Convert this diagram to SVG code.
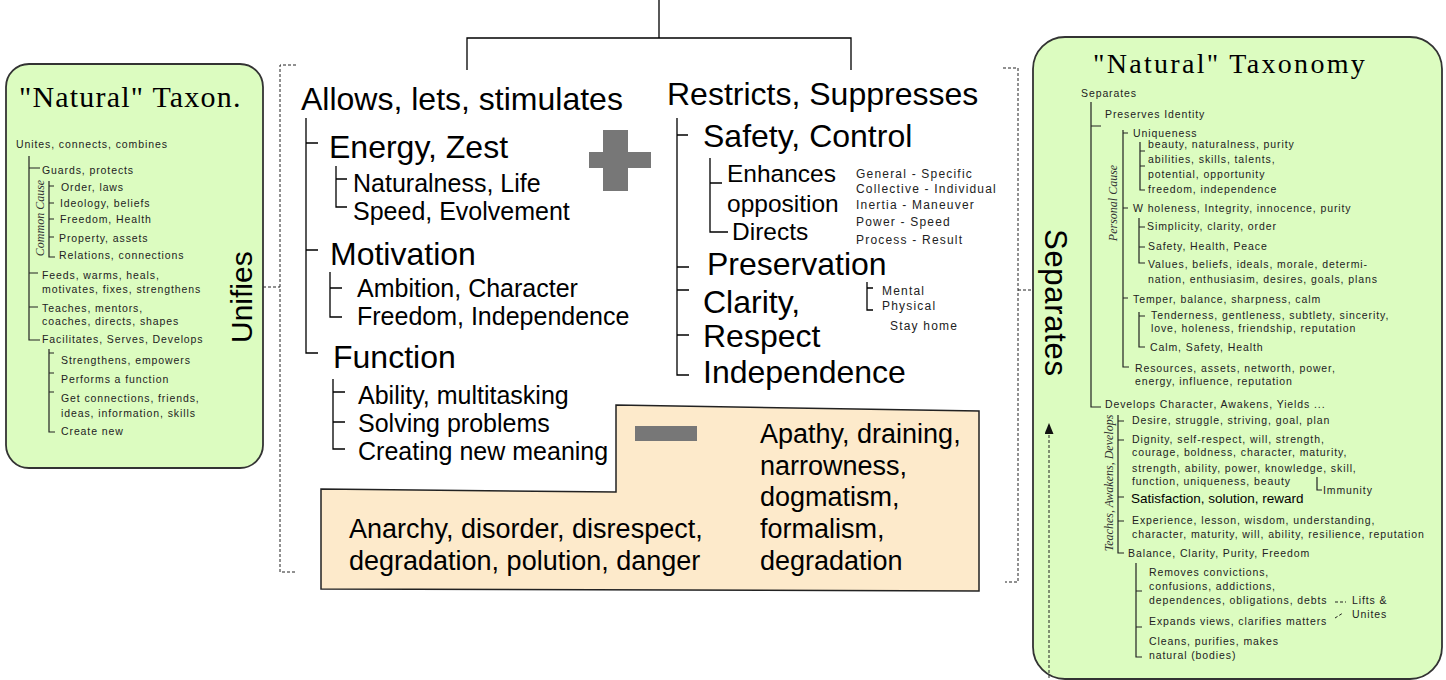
<svg xmlns="http://www.w3.org/2000/svg" width="1446" height="680" viewBox="0 0 1446 680">
<defs>
<style>
text{font-family:"Liberation Sans",Arial,sans-serif;fill:#000}
.s{font-size:10.5px;letter-spacing:0.9px;fill:#222}
.m{font-size:12px;letter-spacing:1.2px;fill:#222}
.h1{font-size:32px}
.h2{font-size:25px}
.h3{font-size:24.5px}
.box{font-size:27px}
.serif{font-family:"Liberation Serif","Times New Roman",serif}
.it{font-family:"Liberation Serif","Times New Roman",serif;font-style:italic;font-size:12px;fill:#333}
.ln{stroke:#000;stroke-width:1.3;fill:none}
.lt{stroke:#222;stroke-width:1.2;fill:none}
.dash{stroke:#222;stroke-width:1;fill:none;stroke-dasharray:3 2}
.panel{fill:#dcfcc0;stroke:#333;stroke-width:1.8}
.sign{fill:#777}
</style>
<marker id="arr" markerWidth="11" markerHeight="9" refX="10" refY="4.5" orient="auto" markerUnits="userSpaceOnUse">
<path d="M0,0 L11,4.5 L0,9 Z" fill="#111"/>
</marker>
</defs>
<rect width="1446" height="680" fill="#fff"/>

<g id="connectors">
<path class="ln" d="M659,0 V38 M467,70 V38 H851 V70"/>
<path class="dash" d="M296,65 H280 V572 H296 M258,287 H280"/>
<path class="dash" d="M1003,68 H1018 V582 H1005 M1018,290 H1038"/>
</g>

<g id="left-panel">
<rect class="panel" x="6" y="64" width="257" height="404" rx="23"/>
<text class="serif" x="19" y="107" font-size="30" letter-spacing="1.2">"Natural" Taxon.</text>
<text class="s" x="16" y="148">Unites, connects, combines</text>
<path class="lt" d="M29,156 V340 H40 M29,168 H40 M29,273 H38 M29,307 H38"/>
<text class="s" x="42" y="174">Guards, protects</text>
<path class="lt" d="M49,181 V257 H55 M49,186 H54 M49,203 H54 M49,219 H54 M49,237 H54"/>
<text class="s" x="61" y="191">Order, laws</text>
<text class="s" x="60" y="207">Ideology, beliefs</text>
<text class="s" x="60" y="223">Freedom, Health</text>
<text class="s" x="59" y="242">Property, assets</text>
<text class="s" x="59" y="259">Relations, connections</text>
<text class="it" transform="translate(44,218) rotate(-90)" text-anchor="middle">Common Cause</text>
<text class="s" x="42" y="279">Feeds, warms, heals,</text>
<text class="s" x="42" y="293">motivates, fixes, strengthens</text>
<text class="s" x="42" y="312">Teaches, mentors,</text>
<text class="s" x="42" y="325">coaches, directs, shapes</text>
<text class="s" x="42" y="343">Facilitates, Serves, Develops</text>
<path class="lt" d="M49,349 V432 H55 M49,353 H54 M49,373 H54 M49,392 H54"/>
<text class="s" x="61" y="364">Strengthens, empowers</text>
<text class="s" x="61" y="383">Performs a function</text>
<text class="s" x="61" y="402">Get connections, friends,</text>
<text class="s" x="61" y="417">ideas, information, skills</text>
<text class="s" x="61" y="435">Create new</text>
<text transform="translate(252,343) rotate(-90)" font-size="30">Unifies</text>
</g>

<g id="allows">
<text class="h1" x="301" y="110">Allows, lets, stimulates</text>
<path class="ln" d="M306,118 V353 H318 M306,143 H318 M306,250 H318"/>
<text class="h1" x="329" y="158">Energy, Zest</text>
<path class="ln" d="M336,166 V207 H347 M336,179 H347"/>
<text class="h2" x="353" y="192">Naturalness, Life</text>
<text class="h2" x="353" y="220">Speed, Evolvement</text>
<text class="h1" x="330" y="265">Motivation</text>
<path class="ln" d="M330,272 V317 H342 M330,288 H342"/>
<text class="h2" x="357" y="297">Ambition, Character</text>
<text class="h2" x="357" y="325">Freedom, Independence</text>
<text class="h1" x="333" y="368">Function</text>
<path class="ln" d="M333,379 V449 H345 M333,392 H345 M333,422 H345"/>
<text class="h2" x="358" y="404">Ability, multitasking</text>
<text class="h2" x="358" y="432">Solving problems</text>
<text class="h2" x="358" y="460">Creating new meaning</text>
</g>

<g id="plus">
<rect class="sign" x="603" y="130" width="25" height="61"/>
<rect class="sign" x="589" y="152" width="62" height="16"/>
</g>

<g id="restricts">
<text class="h1" x="667" y="105">Restricts, Suppresses</text>
<path class="ln" d="M677,118 V375 H689 M677,135 H688 M677,267 H689 M677,290 H689 M677,335 H689"/>
<text class="h1" x="703" y="147">Safety, Control</text>
<path class="ln" d="M710,158 V232 H728 M710,183 H722"/>
<text class="h3" x="727" y="182">Enhances</text>
<text class="h3" x="727" y="212">opposition</text>
<text class="h3" x="732" y="240">Directs</text>
<text class="m" x="856" y="178">General - Specific</text>
<text class="m" x="856" y="193">Collective - Individual</text>
<text class="m" x="856" y="209">Inertia - Maneuver</text>
<text class="m" x="856" y="226">Power - Speed</text>
<text class="m" x="856" y="244">Process - Result</text>
<text class="h1" x="707" y="275">Preservation</text>
<path class="ln" d="M867,282 V310 H873 M867,288 H873"/>
<text class="m" x="882" y="295">Mental</text>
<text class="m" x="882" y="310">Physical</text>
<text class="m" x="890" y="330">Stay home</text>
<text class="h1" x="703" y="313">Clarity,</text>
<text class="h1" x="703" y="347">Respect</text>
<text class="h1" x="703" y="383">Independence</text>
</g>

<g id="negatives">
<path d="M616,405 L979,411 L979,591 L321,589 L321,489 L616,492 Z" fill="#fdeacb" stroke="#222" stroke-width="1.5"/>
<rect class="sign" x="635" y="426" width="62" height="15"/>
<text class="box" x="349" y="538">Anarchy, disorder, disrespect,</text>
<text class="box" x="349" y="570">degradation, polution, danger</text>
<text class="box" x="760" y="443">Apathy, draining,</text>
<text class="box" x="760" y="475">narrowness,</text>
<text class="box" x="760" y="506">dogmatism,</text>
<text class="box" x="760" y="538">formalism,</text>
<text class="box" x="760" y="570">degradation</text>
</g>

<g id="right-panel">
<rect class="panel" x="1033" y="37" width="409" height="642" rx="32"/>
<text class="serif" x="1093" y="73" font-size="28" letter-spacing="2.3">"Natural" Taxonomy</text>
<text class="s" x="1081" y="97">Separates</text>
<path class="lt" d="M1091,102 V407 H1101 M1091,126 H1101"/>
<text class="s" x="1105" y="118">Preserves Identity</text>
<path class="lt" d="M1123,130 V367 H1129 M1123,133 H1128 M1123,208 H1128 M1123,298 H1128"/>
<text class="s" x="1133" y="137">Uniqueness</text>
<path class="lt" d="M1140,142 V190 H1145 M1140,151 H1145 M1140,166 H1145"/>
<text class="s" x="1148" y="148">beauty, naturalness, purity</text>
<text class="s" x="1148" y="163">abilities, skills, talents,</text>
<text class="s" x="1148" y="178">potential, opportunity</text>
<text class="s" x="1148" y="193">freedom, independence</text>
<text class="it" transform="translate(1117,203) rotate(-90)" text-anchor="middle">Personal Cause</text>
<text class="s" x="1133" y="212">W holeness, Integrity, innocence, purity</text>
<path class="lt" d="M1139,218 V263 H1145 M1139,227 H1145 M1139,247 H1145"/>
<text class="s" x="1147" y="230">Simplicity, clarity, order</text>
<text class="s" x="1148" y="250">Safety, Health, Peace</text>
<text class="s" x="1148" y="268">Values, beliefs, ideals, morale, determi-</text>
<text class="s" x="1148" y="283">nation, enthusiasim, desires, goals, plans</text>
<text class="s" x="1133" y="303">Temper, balance, sharpness, calm</text>
<path class="lt" d="M1139,312 V347 H1145 M1139,316 H1145"/>
<text class="s" x="1151" y="319">Tenderness, gentleness, subtlety, sincerity,</text>
<text class="s" x="1151" y="332">love, holeness, friendship, reputation</text>
<text class="s" x="1150" y="351">Calm, Safety, Health</text>
<text class="s" x="1135" y="372">Resources, assets, networth, power,</text>
<text class="s" x="1135" y="385">energy, influence, reputation</text>
<text class="s" x="1105" y="408">Develops Character, Awakens, Yields ...</text>
<path class="lt" d="M1118,415 V553 H1124 M1118,421 H1124 M1118,440 H1124 M1118,497 H1124 M1118,521 H1124"/>
<text class="it" transform="translate(1113,483) rotate(-90)" text-anchor="middle" font-size="11.5">Teaches, Awakens, Develops</text>
<text class="s" x="1132" y="424">Desire, struggle, striving, goal, plan</text>
<text class="s" x="1132" y="443">Dignity, self-respect, will, strength,</text>
<text class="s" x="1132" y="456">courage, boldness, character, maturity,</text>
<text class="s" x="1132" y="472">strength, ability, power, knowledge, skill,</text>
<text class="s" x="1132" y="485">function, uniqueness, beauty</text>
<path class="lt" d="M1317,477 V490 H1322"/>
<text class="s" x="1323" y="494" letter-spacing="0.7">Immunity</text>
<text x="1131" y="503" font-size="13.5">Satisfaction, solution, reward</text>
<text class="s" x="1132" y="524">Experience, lesson, wisdom, understanding,</text>
<text class="s" x="1132" y="538">character, maturity, will, ability, resilience, reputation</text>
<text class="s" x="1128" y="557">Balance, Clarity, Purity, Freedom</text>
<path class="lt" d="M1136,563 V657 H1142 M1136,591 H1142 M1136,627 H1142"/>
<text class="s" x="1149" y="576">Removes convictions,</text>
<text class="s" x="1149" y="590">confusions, addictions,</text>
<text class="s" x="1149" y="604">dependences, obligations, debts</text>
<text class="s" x="1149" y="625">Expands views, clarifies matters</text>
<text class="s" x="1149" y="645">Cleans, purifies, makes</text>
<text class="s" x="1149" y="659">natural (bodies)</text>
<path class="dash" d="M1335,602 H1346 M1335,618 L1343,613"/>
<text class="s" x="1352" y="604">Lifts &amp;</text>
<text class="s" x="1352" y="618">Unites</text>
<path class="dash" d="M1049,678 V424" marker-end="url(#arr)"/>
<text transform="translate(1045,229) rotate(90)" font-size="31" letter-spacing="0.7">Separates</text>
</g>
</svg>
